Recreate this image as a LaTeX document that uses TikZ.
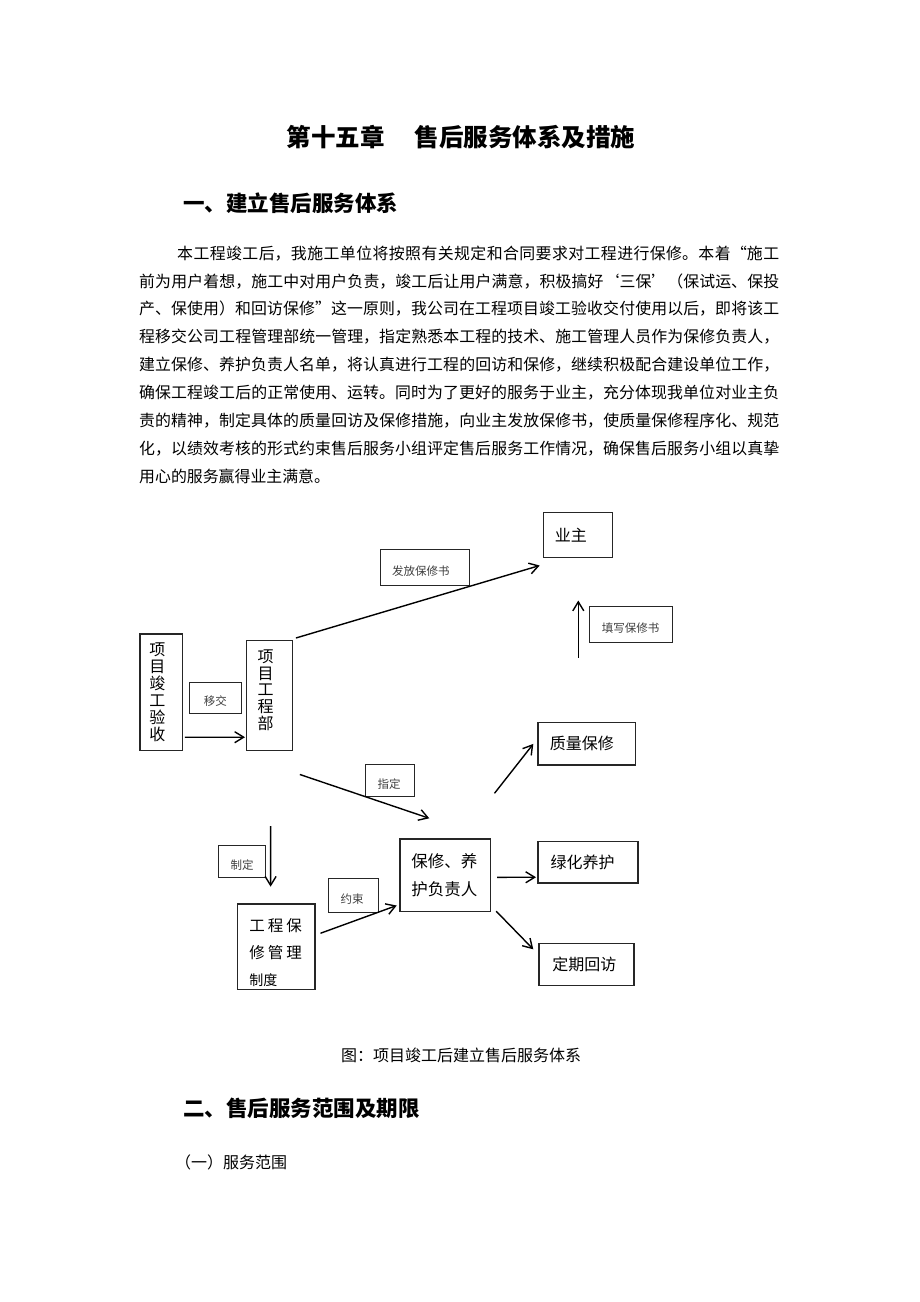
\documentclass[tikz,border=0pt]{standalone}
\usepackage{fontspec}
\usepackage{tikz}
\usetikzlibrary{arrows.meta}
\setmainfont{Noto Sans CJK SC}

\begin{document}
\begin{tikzpicture}[x=1pt, y=-1pt,
    box/.style={draw=black!85, line width=1.2pt, anchor=north west, inner ysep=0pt, align=left, font=\fontsize{16}{17}\selectfont},
    tag/.style={draw=black!85, line width=1.1pt, anchor=north west, inner ysep=0pt, inner xsep=12pt, align=left, text=black!75, text height=17pt, text depth=1.5pt, font=\fontsize{11.5}{13}\selectfont},
    arr/.style={-{Straight Barb[length=9pt,width=11pt]}, line width=1.4pt}]

    \path [fill=white, use as bounding box] (0, 0) rectangle (920, 1302);

    \node (t) at (461, 137) {\fontsize{24.5}{28}\selectfont\bfseries 第十五章\hspace{30pt}售后服务体系及措施};
    \node (h1) [anchor=west, inner sep=0pt] at (183, 203) {\fontsize{21.5}{24}\selectfont\bfseries 一、建立售后服务体系};
    \node (p) [anchor=north west, inner sep=0pt, text width=640pt, align=justify, font=\fontsize{15.9}{27.9}\selectfont] at (139, 245.5) {\XeTeXlinebreaklocale "zh"\XeTeXlinebreakskip=0pt plus 1pt\parindent=0pt\hspace*{38pt}本工程竣工后，我施工单位将按照有关规定和合同要求对工程进行保修。本着“施工\linebreak 前为用户着想，施工中对用户负责，竣工后让用户满意，积极搞好‘三保’（保试运、保投\linebreak 产、保使用）和回访保修”这一原则，我公司在工程项目竣工验收交付使用以后，即将该工\linebreak 程移交公司工程管理部统一管理，指定熟悉本工程的技术、施工管理人员作为保修负责人，\linebreak 建立保修、养护负责人名单，将认真进行工程的回访和保修，继续积极配合建设单位工作，\linebreak 确保工程竣工后的正常使用、运转。同时为了更好的服务于业主，充分体现我单位对业主负\linebreak 责的精神，制定具体的质量回访及保修措施，向业主发放保修书，使质量保修程序化、规范\linebreak 化，以绩效考核的形式约束售后服务小组评定售后服务工作情况，确保售后服务小组以真挚\linebreak 用心的服务赢得业主满意。};

    \node (yz) [box, minimum width=69pt, minimum height=45pt, inner xsep=11.5pt, text width=46pt] at (542.7, 511.7) {业主};
    \node (fb) [tag, minimum width=89.7pt, minimum height=35.7pt, text width=65.7pt] at (379.5, 549.3) {发放保修书};
    \node (tx) [tag, minimum width=83pt, minimum height=36.3pt, text width=59pt] at (589.3, 606) {填写保修书};
    \node (ys) [box, minimum width=42.4pt, minimum height=116.7pt, inner xsep=9.4pt, text width=23.6pt] at (139.3, 633.3) {项\\目\\竣\\工\\验\\收};
    \node (yj) [tag, minimum width=51.7pt, minimum height=31.6pt, inner xsep=14pt, text width=23.7pt] at (189.3, 681.7) {移交};
    \node (gc) [box, minimum width=45.7pt, minimum height=110pt, inner xsep=11pt, text width=23.7pt, font=\fontsize{16}{16.7}\selectfont] at (246, 640) {项\\目\\工\\程\\部\rule[-12pt]{0pt}{1pt}};
    \node (zl) [box, minimum width=97.7pt, minimum height=42.6pt, inner xsep=12pt, text width=73.7pt] at (537.3, 721.7) {质量保修};
    \node (zdd) [tag, minimum width=49.3pt, minimum height=32pt, text width=25.3pt] at (365, 764) {指定};
    \node (bx) [box, minimum width=90.7pt, minimum height=72.4pt, inner xsep=11.5pt, text width=67.7pt, font=\fontsize{16.5}{28.3}\selectfont] at (399.3, 838.3) {保修、养\\护负责人};
    \node (lh) [box, minimum width=100pt, minimum height=41.3pt, inner xsep=12.7pt, text width=74.6pt] at (537.3, 841) {绿化养护};
    \node (zhd) [tag, minimum width=46.7pt, minimum height=31.7pt, inner xsep=11.7pt, text width=23.3pt] at (218.3, 845) {制定};
    \node (yse) [tag, minimum width=49.4pt, minimum height=33.4pt, inner xsep=11.7pt, text width=26pt] at (328.3, 878.3) {约束};
    \node (zd) [box, minimum width=77.6pt, minimum height=85.7pt, inner xsep=12pt, text width=53.6pt, font=\fontsize{15.5}{27}\selectfont] at (236.7, 903.3) {\rule{0pt}{25pt}工\hspace{3pt}程\hspace{3pt}保\\修\hspace{3pt}管\hspace{3pt}理\\{\fontsize{14}{27}\selectfont 制度}};
    \node (dq) [box, minimum width=95pt, minimum height=42.3pt, inner xsep=13.4pt, text width=68.2pt] at (538.3, 942.7) {定期回访};

    \node (cap) at (461, 1055) {\fontsize{16}{18}\selectfont 图：项目竣工后建立售后服务体系};
    \node (h2) [anchor=west, inner sep=0pt] at (183, 1108) {\fontsize{21.5}{24}\selectfont\bfseries 二、售后服务范围及期限};
    \node (s1) [anchor=west, inner sep=0pt] at (175, 1162) {\fontsize{16}{18}\selectfont （一）服务范围};

    \draw [arr] ([shift={(2, -14)}]ys.south east) to ([shift={(-1, -14)}]gc.south west);
    \draw [arr] ([shift={(3, -2)}]gc.north east) to ([shift={(-3, 7.6)}]yz.south west);
    \draw [arr] ([shift={(0.5, 100)}]yz.south) to ([shift={(0.5, 42.6)}]yz.south);
    \draw [arr] ([shift={(7, 23.3)}]gc.south east) to ([shift={(30, -20)}]bx.north west);
    \draw [arr] ([shift={(1.2, 75)}]gc.south) to ([shift={(-5.5, -16.6)}]zd.north);
    \draw [arr] ([shift={(5, -13.5)}]zd.east) to ([shift={(-2.6, -6.4)}]bx.south west);
    \draw [arr] ([shift={(3.3, -45)}]bx.north east) to ([shift={(-4, 0.3)}]zl.west);
    \draw [arr] ([shift={(6, 2.2)}]bx.east) to ([shift={(-1.3, 15)}]lh.west);
    \draw [arr] ([shift={(5, -0.7)}]bx.south east) to ([shift={(-5, 6.6)}]dq.north west);

\end{tikzpicture}
\end{document}
